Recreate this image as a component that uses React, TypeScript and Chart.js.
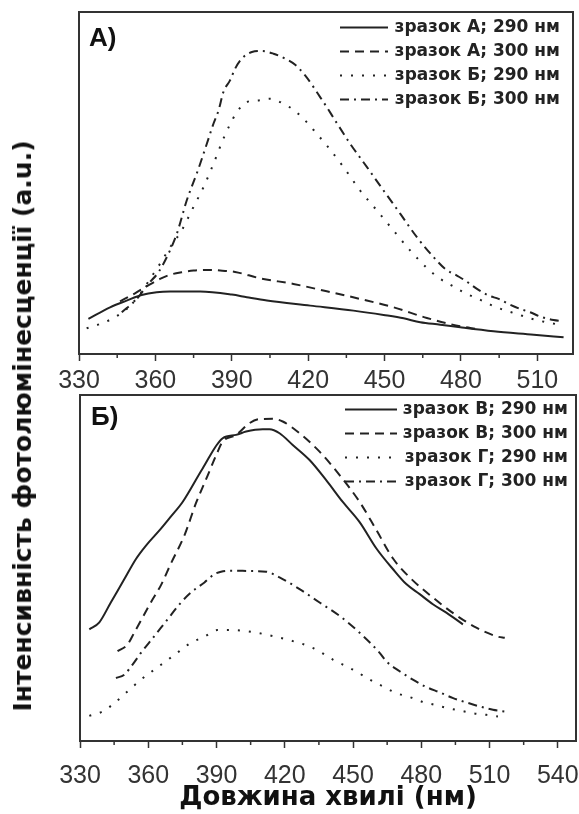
import React, { useEffect, useRef } from 'react';
import { Chart, registerables } from 'chart.js';

Chart.register(...registerables);

const SANS = '"Liberation Sans", Arial, Helvetica, sans-serif';
const HEAVY = '"DejaVu Sans", "Liberation Sans", Arial, sans-serif';

// ---------- Panel А ----------
const xTicksA = [330, 360, 390, 420, 450, 480, 510];
const xMinorA = [345, 375, 405, 435, 465, 495];
const xRangeA = [330, 524];
const yRangeA = [0, 102.5];
const legendA = ['зразок А; 290 нм', 'зразок А; 300 нм', 'зразок Б; 290 нм', 'зразок Б; 300 нм'];

const a290X = [333.7, 342.2, 348.7, 354.6, 360.5, 365.8, 377.6, 390, 395.9, 403.8, 420.8, 437.8, 449.6, 457.5, 464, 471.9, 479.7, 492.8, 508.6, 520.3];
const a290Y = [10.5, 14, 16, 17.7, 18.5, 18.7, 18.7, 17.8, 17, 16, 14.5, 13, 11.7, 10.7, 9.5, 8.8, 8, 6.8, 5.8, 5];

const a300X = [346.1, 352, 357, 361.8, 366, 370.3, 375, 381, 387.4, 391.3, 401.1, 414.2, 427.3, 440.4, 453.5, 466.6, 479.7, 486.3];
const a300Y = [15.8, 18.2, 20.5, 22.5, 23.8, 24.5, 25, 25.2, 24.9, 24.6, 22.7, 21, 18.8, 16.5, 14, 10.8, 8.3, 7.5];

const b290X = [333, 338.3, 342.8, 348.7, 354, 357.9, 361.8, 365.8, 370.3, 374.9, 378.9, 382.8, 386.7, 389.1, 392, 395.9, 400.5, 405.1, 410.3, 414.9, 418.8, 423.4, 427.3, 433.9, 440.4, 447, 453.5, 460.1, 466.6, 471.9, 476.5, 481.7, 486.9, 491.5, 496.8, 502, 506.6, 511.8, 517.1];
const b290Y = [7.7, 9, 10.5, 13.5, 18, 22.5, 27, 32, 37, 44, 50, 57, 64.5, 68.5, 72.5, 75.5, 76, 76.5, 75, 72.8, 70, 66, 62.5, 56, 49, 43, 37, 31, 25.8, 22.5, 20.5, 18.2, 16.5, 14.8, 13.2, 12, 10.8, 9.8, 9];

const b300X = [346.8, 352.7, 357.2, 361.2, 365.1, 368.4, 372.3, 376.9, 380.2, 382.8, 384.8, 386.7, 389.3, 391.3, 393.9, 397.9, 401.8, 406.4, 411, 414.9, 418.8, 422.1, 424.7, 427.3, 430.6, 436.5, 443.1, 449.6, 456.2, 462.7, 469.3, 473.8, 478.4, 481.7, 486.3, 490.9, 494.8, 498.7, 503.3, 507.2, 511.2, 516.4, 520.3];
const b300Y = [12.5, 16.5, 21, 24.5, 30, 36, 46, 55.5, 63, 69, 73, 78.5, 82, 85.5, 88.5, 90.5, 90.8, 90, 88.5, 86.7, 83.5, 80, 77, 74, 70, 63, 56, 49, 42, 35, 29, 25.5, 23.5, 22, 19.5, 17.5, 16.5, 15, 13.5, 12.5, 11.2, 10.2, 9.8];

// ---------- Panel Б ----------
const xTicksB = [330, 360, 390, 420, 450, 480, 510, 540];
const xMinorB = [345, 375, 405, 435, 465, 495, 525];
const xRangeB = [330, 548];
const yRangeB = [0, 103.2];
const legendB = ['зразок В; 290 нм', 'зразок В; 300 нм', 'зразок Г; 290 нм', 'зразок Г; 300 нм'];
const xTitleB = 'Довжина хвилі (нм)';
const yTitle = 'Інтенсивність фотолюмінесценції (a.u.)';

const c290X = [334.1, 338.5, 343.6, 349.5, 354.6, 359, 364.9, 370, 375.1, 383.9, 392.7, 398.6, 403, 410.3, 413.3, 417.7, 423.5, 430.9, 438.2, 445.5, 452.9, 460.2, 467.5, 473.4, 479.3, 485.1, 491, 498.3];
const c290Y = [33.3, 35.4, 41.4, 48.3, 54.3, 58.3, 62.8, 67, 71.3, 81.3, 90.3, 91.3, 92.3, 93, 93, 91.8, 88.3, 83.8, 77.8, 71.3, 65.3, 57.5, 51.3, 46.8, 43.8, 40.8, 38.3, 34.8];

const c300X = [346.5, 350.9, 353.9, 361.2, 365.6, 370, 376, 381, 386, 390, 392.7, 398.6, 404.5, 408.9, 414.7, 419.1, 426.5, 435.3, 444.1, 452.9, 460.2, 467.5, 474.9, 485.1, 494.7, 504.2, 513.7, 516.7];
const c300Y = [26.8, 28.8, 32.4, 41.4, 46.5, 53, 61.5, 71, 79, 85.5, 89.3, 91.3, 94.8, 96, 96.1, 95.3, 91.8, 86.3, 79.3, 71.3, 63, 54.5, 48.8, 42.8, 37.8, 33.8, 31.1, 30.8];

const d290X = [334.1, 339.9, 345.1, 350.9, 356.8, 362.7, 367.8, 373.7, 378.8, 384.7, 390.5, 395.7, 405.9, 414.7, 423.5, 432.3, 441.1, 449.9, 458.7, 463.1, 469, 474.9, 480, 485.9, 491.7, 496.9, 502.7, 508.6, 513.7];
const d290Y = [7.5, 8.8, 11.3, 14.8, 18.3, 21.3, 23.8, 26.8, 29.3, 31.1, 33.1, 33.1, 32.5, 31.3, 29.8, 27.8, 24.3, 21.3, 17.8, 16.3, 14.3, 13.1, 11.8, 10.8, 9.8, 9.1, 8.3, 7.8, 7.3];

const d300X = [345.8, 349.5, 353.1, 356.8, 362.7, 368.5, 374.4, 378.8, 384.7, 389.1, 392, 396.4, 404.5, 411.8, 417.7, 426.5, 435.3, 444.1, 452.9, 461.7, 464.6, 470.5, 476.3, 482.2, 488.1, 494, 499.8, 505.7, 511.5, 516.7];
const d300Y = [18.8, 19.8, 22.8, 26.3, 31.3, 36.3, 41.3, 44.3, 47.3, 49.8, 50.5, 50.8, 50.7, 50.5, 48.8, 45.3, 41.3, 37.3, 32.3, 26.3, 23.8, 20.8, 18.3, 16.1, 14.5, 12.8, 11.5, 10.3, 9.3, 8.8];

const DASHES = [[], [9, 6], [2, 9], [9, 5, 2, 5]];

const CANVAS_W = 600;

const framePlugin = {
  id: 'frame',
  afterDraw(chart: any, _args: any, opts: any) {
    const { ctx, chartArea: a } = chart;
    const xs = chart.scales.x;
    ctx.save();
    ctx.strokeStyle = '#333';
    ctx.lineWidth = 2;
    ctx.strokeRect(a.left, a.top, a.right - a.left, a.bottom - a.top);
    ctx.lineWidth = 1.5;
    (opts.minor || []).forEach((v: number) => {
      const px = xs.getPixelForValue(v);
      ctx.beginPath();
      ctx.moveTo(px, a.bottom);
      ctx.lineTo(px, a.bottom + 4);
      ctx.stroke();
    });
    ctx.restore();
  },
};

const legendPosPlugin = {
  id: 'legendPos',
  afterLayout(chart: any, _args: any, opts: any) {
    const lg = chart.legend;
    if (!lg) return;
    lg.left = opts.left;
    lg.top = opts.top;
    lg.right = opts.right;
    lg.bottom = opts.top + 140;
  },
};

type Series = { x: number[]; y: number[] };

function buildConfig(p: any) {
  return {
    type: 'line',
    data: {
      datasets: p.series.map((s: Series, i: number) => ({
        label: p.legend[i],
        data: s.x.map((x, j) => ({ x, y: s.y[j] })),
        borderColor: '#222',
        backgroundColor: 'rgba(0,0,0,0)',
        borderWidth: 2,
        borderDash: DASHES[i],
        pointRadius: 0,
        pointHoverRadius: 0,
        cubicInterpolationMode: 'monotone',
        fill: false,
      })),
    },
    options: {
      responsive: false,
      animation: false,
      devicePixelRatio: 1,
      events: [],
      layout: { padding: p.padding },
      scales: {
        x: {
          type: 'linear',
          min: p.xRange[0],
          max: p.xRange[1],
          afterBuildTicks: (s: any) => {
            s.ticks = p.ticks.map((v: number) => ({ value: v }));
          },
          afterFit: (s: any) => {
            s.height = p.axisHeight;
          },
          ticks: {
            padding: p.tickPad,
            font: { family: SANS, size: 25 },
            color: '#333',
            maxRotation: 0,
            autoSkip: false,
            callback: (v: any) => String(v),
          },
          grid: {
            display: true,
            drawOnChartArea: false,
            drawTicks: true,
            tickLength: 7,
            tickColor: '#333',
            tickWidth: 1.5,
          },
          border: { display: false },
          title: p.title
            ? { display: true, text: p.title, font: { family: HEAVY, size: 26, weight: 'bold' }, color: '#111', padding: 0 }
            : { display: false },
        },
        y: { type: 'linear', display: false, min: p.yRange[0], max: p.yRange[1] },
      },
      plugins: {
        legend: {
          display: true,
          position: 'chartArea',
          align: 'start',
          labels: {
            usePointStyle: true,
            pointStyle: 'line',
            pointStyleWidth: p.legendLine,
            boxHeight: 18,
            font: { family: HEAVY, size: 17, weight: 'bold' },
            color: '#222',
            padding: 7,
            textAlign: 'right',
            generateLabels: (chart: any) => {
              const base = (Chart as any).defaults.plugins.legend.labels.generateLabels(chart);
              return base.map((it: any) => ({
                ...it,
                lineDash: chart.data.datasets[it.datasetIndex].borderDash,
                lineWidth: 2,
                strokeStyle: '#222',
                pointStyle: 'line',
              }));
            },
          },
        },
        tooltip: { enabled: false },
        legendPos: p.legendPos,
        frame: { minor: p.minor },
      },
    },
    plugins: [legendPosPlugin, framePlugin],
  };
}

const panelA = {
  series: [
    { x: a290X, y: a290Y },
    { x: a300X, y: a300Y },
    { x: b290X, y: b290Y },
    { x: b300X, y: b300Y },
  ],
  legend: legendA,
  ticks: xTicksA,
  minor: xMinorA,
  xRange: xRangeA,
  yRange: yRangeA,
  padding: { left: 79, right: CANVAS_W - 573, top: 12, bottom: 0 },
  axisHeight: 46,
  tickPad: 5,
  title: null,
  legendLine: 48,
  legendPos: { left: 333, top: 12, right: 560 },
};

const panelB = {
  series: [
    { x: c290X, y: c290Y },
    { x: c300X, y: c300Y },
    { x: d290X, y: d290Y },
    { x: d300X, y: d300Y },
  ],
  legend: legendB,
  ticks: xTicksB,
  minor: xMinorB,
  xRange: xRangeB,
  yRange: yRangeB,
  padding: { left: 80, right: CANVAS_W - 576, top: 15, bottom: 0 },
  axisHeight: 73,
  tickPad: 13,
  title: xTitleB,
  legendLine: 52,
  legendPos: { left: 338, top: 14, right: 568 },
};

function Panel({ spec, top, height }: { spec: any; top: number; height: number }) {
  const ref = useRef<HTMLCanvasElement>(null);
  useEffect(() => {
    const chart = new Chart(ref.current as HTMLCanvasElement, buildConfig(spec) as any);
    return () => chart.destroy();
  }, [spec]);
  return (
    <canvas
      ref={ref}
      width={CANVAS_W}
      height={height}
      style={{ position: 'absolute', left: 0, top, width: CANVAS_W, height }}
    />
  );
}

export default function App() {
  return (
    <div style={{ position: 'absolute', left: 0, top: 0, width: 579, height: 814, background: '#fff', overflow: 'hidden' }}>
      <Panel spec={panelA} top={0} height={400} />
      <Panel spec={panelB} top={380} height={434} />
      <div
        style={{
          position: 'absolute',
          left: 89,
          top: 24,
          font: `bold 26px ${SANS}`,
          lineHeight: '26px',
          color: '#111',
        }}
      >
        А)
      </div>
      <div
        style={{
          position: 'absolute',
          left: 91,
          top: 403,
          font: `bold 26px ${SANS}`,
          lineHeight: '26px',
          color: '#111',
        }}
      >
        Б)
      </div>
      <div
        style={{
          position: 'absolute',
          left: 23,
          top: 426,
          transform: 'translate(-50%, -50%) rotate(-90deg)',
          whiteSpace: 'nowrap',
          font: `bold 25px ${HEAVY}`,
          lineHeight: '28px',
          color: '#111',
        }}
      >
        {yTitle}
      </div>
    </div>
  );
}
